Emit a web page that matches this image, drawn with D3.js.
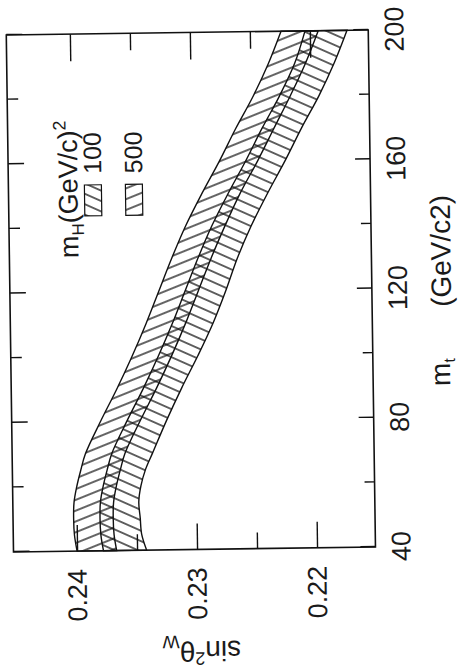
<!DOCTYPE html>
<html>
<head>
<meta charset="utf-8">
<script src="https://cdn.jsdelivr.net/npm/d3@7"></script>
<style>
  body { margin: 0; background: #fff; }
  text { font-family: "Liberation Sans", Arial, sans-serif; fill: #1a1a1a; }
</style>
</head>
<body>
<div id="chart"></div>
<script>
// Dados (m_t em GeV/c2, sin2 theta_W)
const mt = [40, 45, 50, 55, 60, 65, 70, 80, 90, 100, 110, 120, 130, 140, 150, 160, 170, 180, 190, 200];

// faixa de cima (sin2 maior)
const hiA = [0.2400, 0.2402, 0.24025, 0.2402, 0.23995, 0.2396, 0.2392, 0.2379, 0.2365, 0.2352,
             0.2340, 0.2329, 0.2318, 0.2306, 0.2292, 0.2277, 0.2263, 0.2248, 0.2235, 0.2224];
const loA = [0.2367, 0.2369, 0.23695, 0.2369, 0.23665, 0.2363, 0.2359, 0.2346, 0.2332, 0.2319,
             0.2307, 0.2296, 0.2285, 0.2273, 0.2260, 0.2245, 0.2231, 0.2217, 0.2204, 0.2193];
// faixa de baixo
const hiB = [0.2378, 0.2380, 0.23805, 0.2380, 0.23775, 0.2374, 0.2370, 0.2357, 0.2343, 0.2330,
             0.2318, 0.2307, 0.2296, 0.2284, 0.2270, 0.2255, 0.2241, 0.2226, 0.2213, 0.2204];
const loB = [0.2342, 0.2346, 0.2347, 0.2348, 0.2346, 0.2342, 0.2336, 0.2324, 0.2311, 0.2297,
             0.2284, 0.2273, 0.2263, 0.2251, 0.2237, 0.2222, 0.2208, 0.2193, 0.2180, 0.2169];

const xTicksMajor = [40, 80, 120, 160, 200];
const xTicksMinor = [60, 100, 140, 180];
const yTicksMajor = [0.24, 0.23, 0.22];
const yTicksMinor = [0.235, 0.225];

const legendTitle = ["m", "H", "(GeV/c)", "2"];
const legendLabels = ["100", "500"];   // 100 -> faixa B, 500 -> faixa A

// dimensões (o gráfico é desenhado "deitado" e depois girado)
const W = 517, H = 362;

const svg = d3.select("#chart")
  .append("svg")
    .attr("width", 462)
    .attr("height", 671);

svg.append("rect").attr("width", 462).attr("height", 671).attr("fill", "#fff");

const defs = svg.append("defs");
function hatch(id, angle, gap) {
  const p = defs.append("pattern")
    .attr("id", id)
    .attr("patternUnits", "userSpaceOnUse")
    .attr("width", gap)
    .attr("height", gap)
    .attr("patternTransform", `rotate(${angle})`);
  p.append("line")
    .attr("x1", 0).attr("x2", gap)
    .attr("y1", gap / 2).attr("y2", gap / 2)
    .attr("stroke", "#111")
    .attr("stroke-width", 1.3);
}
hatch("hatchA", 68.8, 10);
hatch("hatchB", 114.8, 9.5);

const g = svg.append("g")
  .attr("transform", "translate(13.5,552) rotate(-90.8)");

// escalas
const x = d3.scaleLinear().domain([40, 200]).range([0, W]);
const y = d3.scaleLinear().domain([0.2453, 0.21513]).range([0, H]);

const rows = mt.map((m, i) => ({m: m, hiA: hiA[i], loA: loA[i], hiB: hiB[i], loB: loB[i]}));

const areaA = d3.area().curve(d3.curveCatmullRom)
  .x(d => x(d.m)).y0(d => y(d.loA)).y1(d => y(d.hiA));
const areaB = d3.area().curve(d3.curveCatmullRom)
  .x(d => x(d.m)).y0(d => y(d.loB)).y1(d => y(d.hiB));

g.append("path").datum(rows)
  .attr("d", areaA)
  .attr("fill", "url(#hatchA)")
  .attr("stroke", "#111")
  .attr("stroke-width", 1.4);

g.append("path").datum(rows)
  .attr("d", areaB)
  .attr("fill", "url(#hatchB)")
  .attr("stroke", "#111")
  .attr("stroke-width", 1.4);

// eixos
function styleAxis(sel, size) {
  sel.select(".domain").remove();
  sel.selectAll("line").attr("stroke", "#111").attr("stroke-width", 1.4);
  sel.attr("font-size", size).attr("font-family", null);
  sel.selectAll("text").attr("fill", "#1a1a1a");
}

g.append("g")
  .attr("transform", `translate(0,${H})`)
  .call(d3.axisBottom(x).tickValues(xTicksMajor).tickSize(-15).tickPadding(16))
  .call(s => styleAxis(s, 27));
g.append("g")
  .attr("transform", `translate(0,${H})`)
  .call(d3.axisBottom(x).tickValues(xTicksMinor).tickSize(-10).tickFormat(""))
  .call(s => styleAxis(s, 27));
g.append("g")
  .call(d3.axisTop(x).tickValues(xTicksMajor).tickSize(-16).tickFormat(""))
  .call(s => styleAxis(s, 27));
g.append("g")
  .call(d3.axisTop(x).tickValues(xTicksMinor).tickSize(-11).tickFormat(""))
  .call(s => styleAxis(s, 27));

g.append("g")
  .call(d3.axisLeft(y).tickValues(yTicksMajor).tickSize(-26).tickPadding(18).tickFormat(d3.format(".2f")))
  .call(s => styleAxis(s, 27));
g.append("g")
  .call(d3.axisLeft(y).tickValues(yTicksMinor).tickSize(-16).tickFormat(""))
  .call(s => styleAxis(s, 27));
g.append("g")
  .attr("transform", `translate(${W},0)`)
  .call(d3.axisRight(y).tickValues(yTicksMajor).tickSize(-27).tickFormat(""))
  .call(s => styleAxis(s, 27));
g.append("g")
  .attr("transform", `translate(${W},0)`)
  .call(d3.axisRight(y).tickValues(yTicksMinor).tickSize(-17).tickFormat(""))
  .call(s => styleAxis(s, 27));

// moldura
g.append("rect")
  .attr("width", W).attr("height", H)
  .attr("fill", "none")
  .attr("stroke", "#111")
  .attr("stroke-width", 1.6);

// título do eixo x
const xt = g.append("text")
  .attr("x", 160)
  .attr("y", H + 77)
  .attr("font-size", 28);
xt.append("tspan").text("m");
xt.append("tspan").attr("font-size", 16).attr("dy", 5).text("t");
g.append("text")
  .attr("x", 239)
  .attr("y", H + 79)
  .attr("font-size", 28)
  .text("(GeV/c2)");

// título do eixo y
const yt = g.append("text")
  .attr("transform", `translate(-92,${187}) rotate(-90)`)
  .attr("text-anchor", "middle")
  .attr("font-size", 28);
yt.append("tspan").text("sin");
yt.append("tspan").attr("font-size", 18).attr("dy", -11).text("2");
yt.append("tspan").attr("dy", 11).text("θ");
yt.append("tspan").attr("font-size", 18).attr("dy", 6).text("W");

// legenda
const lt = g.append("text")
  .attr("x", 293)
  .attr("y", 69)
  .attr("font-size", 27);
lt.append("tspan").text(legendTitle[0]);
lt.append("tspan").attr("font-size", 17).attr("dy", 6).text(legendTitle[1]);
lt.append("tspan").attr("dy", -6).text(legendTitle[2]);
lt.append("tspan").attr("font-size", 18).attr("dy", -11).text(legendTitle[3]);

const legendFill = ["url(#hatchB)", "url(#hatchA)"];
const legendBase = [93, 134];
legendLabels.forEach((lab, i) => {
  g.append("rect")
    .attr("x", 335)
    .attr("y", legendBase[i] - 17)
    .attr("width", 31)
    .attr("height", 17)
    .attr("fill", legendFill[i])
    .attr("stroke", "#111")
    .attr("stroke-width", 1.2);
  g.append("text")
    .attr("x", 377)
    .attr("y", legendBase[i])
    .attr("font-size", 25)
    .text(lab);
});
</script>
</body>
</html>
